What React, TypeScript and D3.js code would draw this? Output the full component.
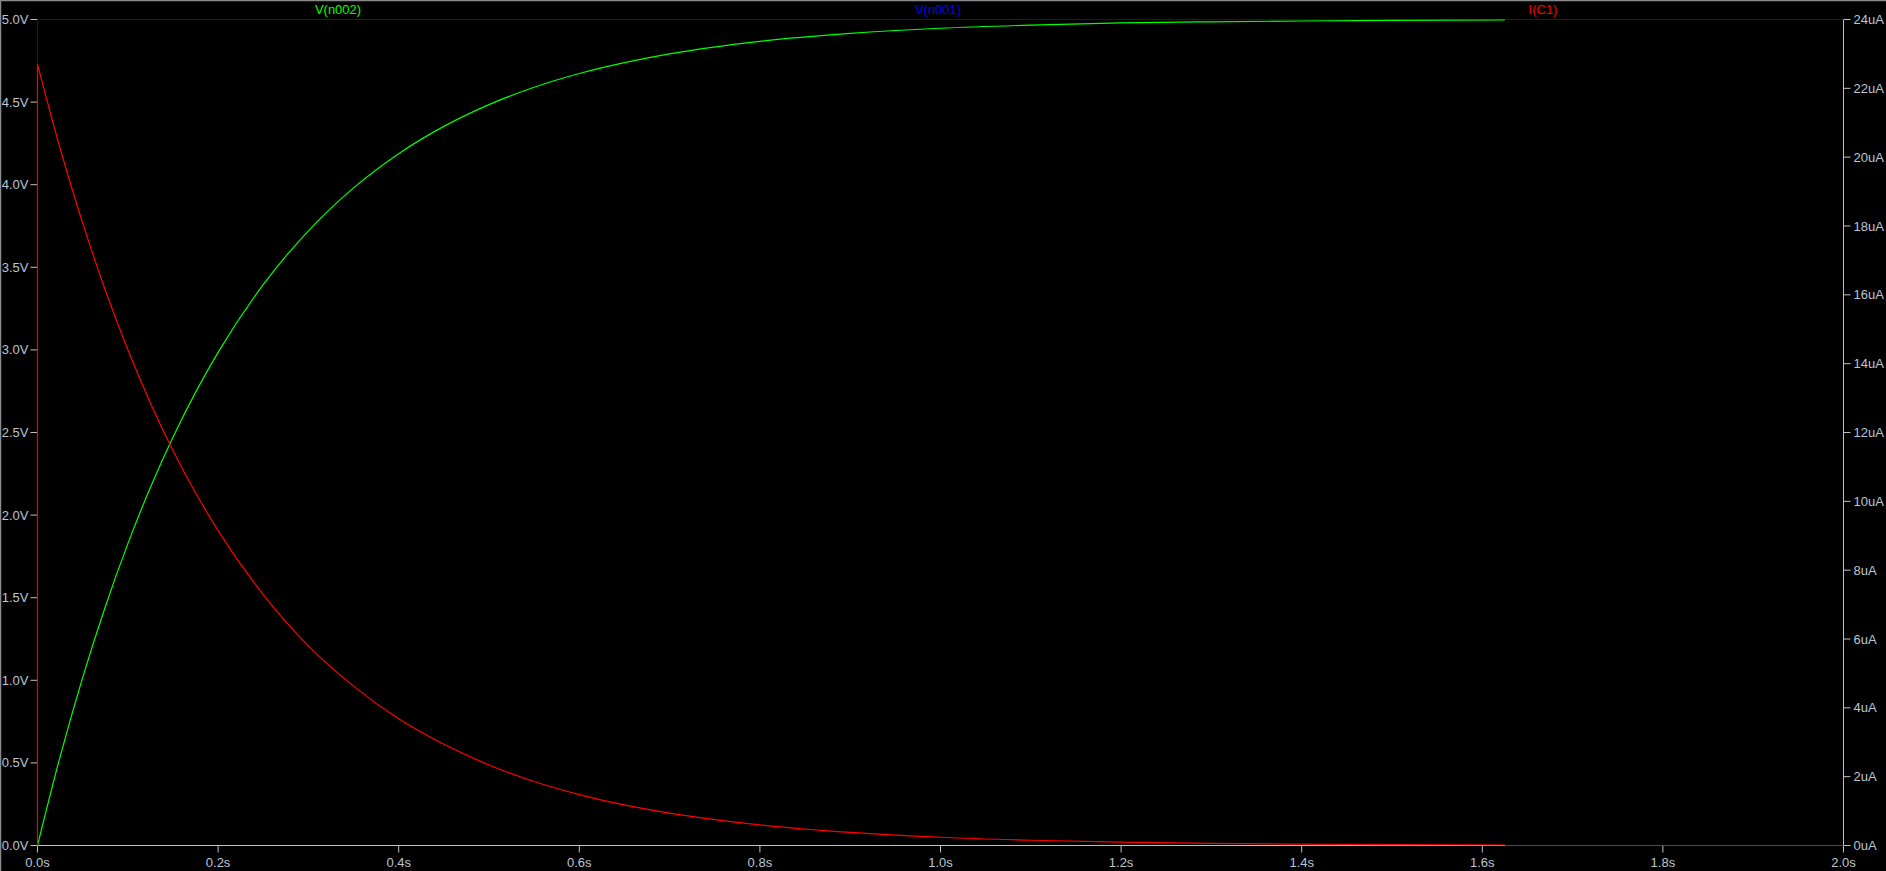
import React from "react";
import * as d3 from "d3";

// time samples (s)
const timeS = [0, 0.025, 0.05, 0.075, 0.1, 0.125, 0.15, 0.175, 0.2, 0.25, 0.3, 0.35, 0.4, 0.45, 0.5, 0.55, 0.6, 0.7, 0.8, 0.9, 1.0, 1.1, 1.2, 1.3, 1.4, 1.5, 1.625];
// V(n002) capacitor voltage (V)
const vN002 = [0, 0.537, 1.016, 1.444, 1.826, 2.167, 2.471, 2.743, 2.985, 3.395, 3.721, 3.981, 4.188, 4.353, 4.485, 4.59, 4.673, 4.792, 4.868, 4.916, 4.947, 4.966, 4.979, 4.986, 4.991, 4.995, 4.997];
// I(C1) capacitor current (uA)
const iC1 = [22.7, 20.26, 18.09, 16.14, 14.41, 12.86, 11.48, 10.25, 9.15, 7.29, 5.8, 4.63, 3.68, 2.94, 2.34, 1.86, 1.48, 0.94, 0.6, 0.38, 0.24, 0.153, 0.097, 0.062, 0.039, 0.025, 0.014];
// V(n001) source voltage (V)
const tN001 = [0, 0, 2.0];
const vN001 = [0, 5, 5];
// I(C1) tail after end of simulation data
const tTail = [1.625, 2.0];
const iTail = [0, 0];

const xTicks = [0, 0.2, 0.4, 0.6, 0.8, 1.0, 1.2, 1.4, 1.6, 1.8, 2.0];
const vTicks = [0, 0.5, 1.0, 1.5, 2.0, 2.5, 3.0, 3.5, 4.0, 4.5, 5.0];
const iTicks = [0, 2, 4, 6, 8, 10, 12, 14, 16, 18, 20, 22, 24];

const W = 1886;
const H = 871;
const L = 37.5;
const R = 1843.5;
const T = 19.5;
const B = 845.5;

const FONT = "Liberation Sans, Arial, sans-serif";
const LABEL = "#bcc6d0";
const AXIS = "#c0c0c0";

export default function App() {
  const x = d3.scaleLinear().domain([0, 2]).range([L, R]);
  const yV = d3.scaleLinear().domain([0, 5]).range([B, T]);
  const yI = d3.scaleLinear().domain([0, 24]).range([B, T]);

  const lineV = d3.line<[number, number]>().x((d) => x(d[0])).y((d) => yV(d[1])).curve(d3.curveMonotoneX);
  const lineI = d3.line<[number, number]>().x((d) => x(d[0])).y((d) => yI(d[1])).curve(d3.curveMonotoneX);
  const lineLin = d3.line<[number, number]>().x((d) => x(d[0])).y((d) => yV(d[1]));

  const greenPts: [number, number][] = timeS.map((t, i) => [t, vN002[i]]);
  const redPts: [number, number][] = timeS.map((t, i) => [t, iC1[i]]);
  const bluePts: [number, number][] = tN001.map((t, i) => [t, vN001[i]]);
  const tailPts: [number, number][] = tTail.map((t, i) => [t, iTail[i]]);

  const redPath = "M" + x(0) + "," + yI(0) + "L" + (lineI(redPts) || "").slice(1);

  return (
    <div style={{ position: "fixed", left: 0, top: 0, width: W, height: H, background: "#000" }}>
      <svg width={W} height={H} style={{ display: "block" }}>
        <rect x={0} y={0} width={W} height={H} fill="#000" />
        <line x1={0} y1={0.5} x2={W} y2={0.5} stroke="#8a8a8a" strokeWidth={1.5} />
        <line x1={0.5} y1={0} x2={0.5} y2={H} stroke="#8a8a8a" strokeWidth={1.5} />

        {/* frame */}
        <rect x={L} y={T} width={R - L} height={B - T} fill="none" stroke={AXIS} strokeWidth={1} />

        {/* left axis */}
        {vTicks.map((v) => (
          <g key={"v" + v}>
            <line x1={L - 7} x2={L} y1={yV(v)} y2={yV(v)} stroke={AXIS} strokeWidth={1} />
            <text x={L - 9} y={yV(v) + 4.5} textAnchor="end" fill={LABEL} fontFamily={FONT} fontSize={13}>
              {v.toFixed(1) + "V"}
            </text>
          </g>
        ))}
        {/* right axis */}
        {iTicks.map((v) => (
          <g key={"i" + v}>
            <line x1={R} x2={R + 7} y1={yI(v)} y2={yI(v)} stroke={AXIS} strokeWidth={1} />
            <text x={R + 10} y={yI(v) + 4.5} textAnchor="start" fill={LABEL} fontFamily={FONT} fontSize={13}>
              {v + "uA"}
            </text>
          </g>
        ))}
        {/* bottom axis */}
        {xTicks.map((t) => (
          <g key={"t" + t}>
            <line x1={x(t)} x2={x(t)} y1={B} y2={B + 7} stroke={AXIS} strokeWidth={1} />
            <text x={x(t)} y={B + 21} textAnchor="middle" fill={LABEL} fontFamily={FONT} fontSize={13}>
              {t.toFixed(1) + "s"}
            </text>
          </g>
        ))}

        {/* traces */}
        <path d={lineLin(bluePts) || ""} fill="none" stroke="#0000ff" strokeWidth={1} />
        <path d={lineV(greenPts) || ""} fill="none" stroke="#00ff00" strokeWidth={1.2} />
        <path d={redPath} fill="none" stroke="#ff0000" strokeWidth={1.2} />
        <path d={lineI(tailPts) || ""} fill="none" stroke="#ff0000" strokeWidth={1} />

        {/* legend */}
        <text x={338} y={14} textAnchor="middle" fill="#00ff00" fontFamily={FONT} fontSize={13}>V(n002)</text>
        <text x={938} y={14} textAnchor="middle" fill="#0000ff" fontFamily={FONT} fontSize={13}>V(n001)</text>
        <text x={1543} y={14} textAnchor="middle" fill="#ff0000" fontFamily={FONT} fontSize={13}>I(C1)</text>
      </svg>
    </div>
  );
}
